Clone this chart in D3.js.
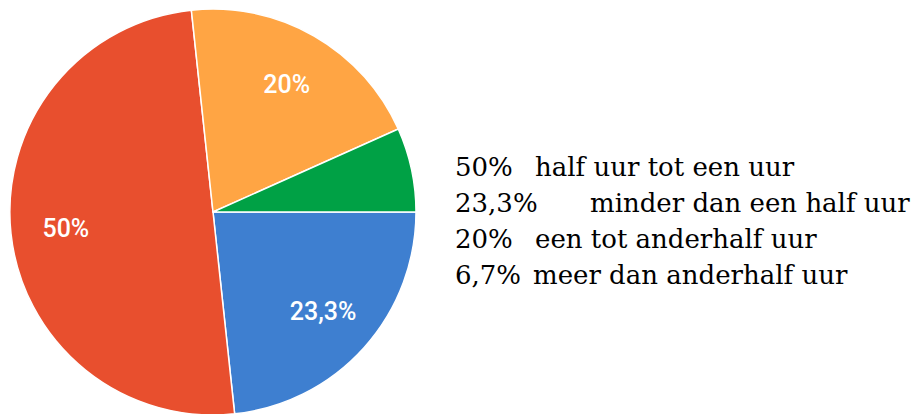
<!DOCTYPE html>
<html>
<head>
<meta charset="utf-8">
<script src="https://cdn.jsdelivr.net/npm/d3@7"></script>
<style>
  body { margin: 0; background: #fff; }
  svg { display: block; }
</style>
</head>
<body>
<div id="chart"></div>
<script>
// answers in pie order (clockwise from 3 o'clock)
var categories = ['minder dan een half uur', 'half uur tot een uur', 'een tot anderhalf uur', 'meer dan anderhalf uur'];
var values = [23.3, 50, 20, 6.7];
var colors = ['#3e7fd0', '#e84f2e', '#ffa544', '#00a145'];
// legend is listed biggest first
var legendOrder = [1, 0, 2, 3];

var width = 922, height = 414;
var cx = 213, cy = 212, radius = 203;

var nl = d3.formatLocale({ decimal: ',', thousands: '.', grouping: [3], currency: ['€', ''] });
var pct = v => nl.format('~r')(v) + '%';

var svg = d3.select('#chart')
    .append('svg')
    .attr('width', width)
    .attr('height', height);

var pie = d3.pie()
    .sort(null)
    .value(d => d)
    .startAngle(Math.PI / 2)
    .endAngle(Math.PI / 2 + 2 * Math.PI);

var arc = d3.arc().innerRadius(0).outerRadius(radius);
var labelArc = d3.arc().innerRadius(148).outerRadius(148);

var g = svg.append('g')
    .attr('transform', `translate(${cx},${cy})`);

var arcs = pie(values);

g.selectAll('path')
    .data(arcs)
    .enter()
    .append('path')
    .attr('d', arc)
    .attr('fill', (d, i) => colors[i])
    .attr('stroke', '#fff')
    .attr('stroke-width', 1.5);

// small slices get no label
g.selectAll('text')
    .data(arcs.filter(d => d.data >= 10))
    .enter()
    .append('text')
    .attr('transform', d => `translate(${labelArc.centroid(d)})`)
    .attr('text-anchor', 'middle')
    .attr('dy', '0.36em')
    .attr('fill', '#fff')
    .style('font-family', 'Roboto, Arial, sans-serif')
    .style('font-size', '25px')
    .style('font-weight', 500)
    .text(d => pct(d.data));

// legend, plain text on the right
var labelX = [535, 590, 535, 533];
var legend = svg.append('g')
    .style('font-family', '"DejaVu Serif", serif')
    .style('font-size', '26px')
    .attr('fill', '#000');

legendOrder.forEach((k, row) => {
    var y = 176 + row * 36;
    legend.append('text')
        .attr('x', 455)
        .attr('y', y)
        .text(pct(values[k]));
    legend.append('text')
        .attr('x', labelX[row])
        .attr('y', y)
        .text(categories[k]);
});
</script>
</body>
</html>
